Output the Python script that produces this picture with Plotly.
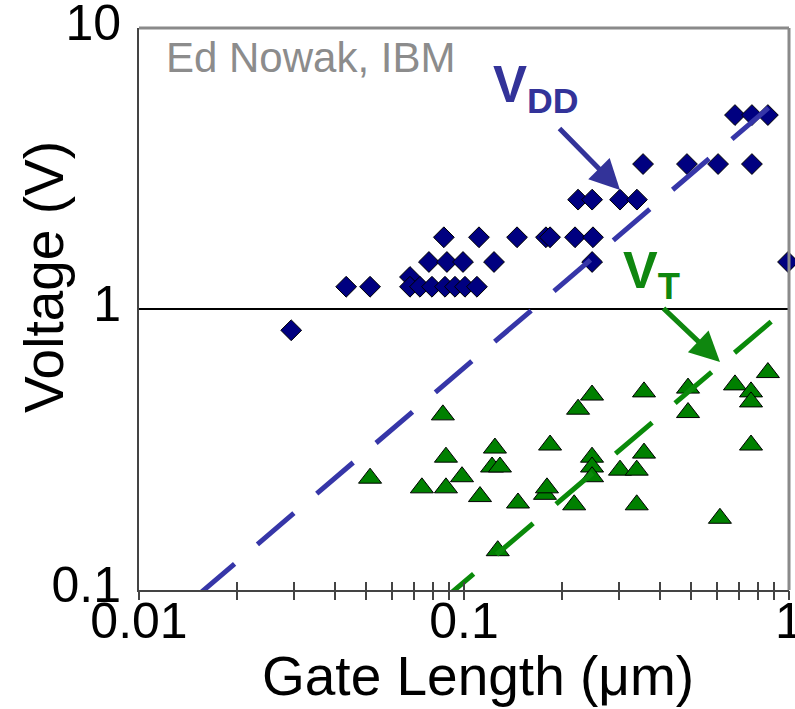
import plotly.graph_objects as go

# ---- data ----
vdd_L = [0.0294, 0.0434, 0.0514, 0.0682, 0.0682, 0.0732, 0.0797, 0.0874, 0.0938, 0.1007, 0.1096,
         0.078, 0.0886, 0.0993, 0.1237, 0.0867, 0.1112, 0.1456, 0.1787, 0.184, 0.2196, 0.2494,
         0.2479, 0.2244, 0.2479, 0.302, 0.3405, 0.3556, 0.4853, 0.605, 0.769, 0.682, 0.769, 0.861,
         0.993]
vdd_V = [0.84, 1.2, 1.2, 1.3, 1.2, 1.2, 1.2, 1.2, 1.2, 1.2, 1.2,
         1.47, 1.47, 1.47, 1.47, 1.8, 1.8, 1.8, 1.8, 1.8, 1.8, 1.8,
         1.47, 2.45, 2.45, 2.45, 2.45, 3.28, 3.28, 3.28, 3.28, 4.9, 4.9, 4.9,
         1.47]

vt_L = [0.0514, 0.0742, 0.0861, 0.088, 0.088, 0.0986, 0.112, 0.1245, 0.122, 0.129, 0.127,
        0.1466, 0.184, 0.1775, 0.18, 0.2183, 0.2244, 0.2477, 0.2477, 0.2477, 0.2477, 0.302,
        0.340, 0.358, 0.340, 0.358, 0.489, 0.489, 0.613, 0.682, 0.764, 0.764, 0.764, 0.861]
vt_V = [0.25, 0.231, 0.42, 0.297, 0.231, 0.253, 0.215, 0.32, 0.274, 0.274, 0.138,
        0.204, 0.328, 0.219, 0.231, 0.201, 0.44, 0.494, 0.297, 0.274, 0.253, 0.267,
        0.267, 0.307, 0.201, 0.507, 0.523, 0.428, 0.18, 0.537, 0.507, 0.467, 0.328, 0.594]

vdd_line_L = [0.0152, 1.0]
vdd_line_V = [0.096, 6.0]
vt_line_L = [0.0826, 1.0]
vt_line_V = [0.0885, 1.02]

x_tickvals = [0.01, 0.02, 0.03, 0.04, 0.05, 0.06, 0.07, 0.08, 0.09,
              0.1, 0.2, 0.3, 0.4, 0.5, 0.6, 0.7, 0.8, 0.9, 1]
x_ticktext = ["0.01"] + [""] * 8 + ["0.1"] + [""] * 8 + ["1"]
y_tickvals = [0.1, 1, 10]
y_ticktext = ["0.1", "1", "10"]

FONT = "Liberation Sans, Arial, sans-serif"
BLUE = "#333399"
GREEN = "#0f870f"

fig = go.Figure()

fig.add_trace(go.Scatter(x=vdd_L, y=vdd_V, mode="markers", cliponaxis=False,
                         marker=dict(symbol="diamond", size=16, color="#000080",
                                     line=dict(color="black", width=1)),
                         showlegend=False, hoverinfo="skip"))
fig.add_trace(go.Scatter(x=vt_L, y=vt_V, mode="markers", cliponaxis=False,
                         marker=dict(symbol="triangle-up", size=20, color="#008000",
                                     line=dict(color="black", width=1)),
                         showlegend=False, hoverinfo="skip"))
fig.add_trace(go.Scatter(x=vdd_line_L, y=vdd_line_V, mode="lines",
                         line=dict(color="#3636a8", width=5, dash="48px,30px"),
                         showlegend=False, hoverinfo="skip"))
fig.add_trace(go.Scatter(x=vt_line_L, y=vt_line_V, mode="lines",
                         line=dict(color="#0a8a0a", width=5, dash="48px,30px"),
                         showlegend=False, hoverinfo="skip"))
# empty trace to carry the overlay axis (outer half of crossing ticks)
fig.add_trace(go.Scatter(x=[], y=[], xaxis="x2", yaxis="y", showlegend=False))

fig.update_layout(
    width=795, height=709, autosize=False,
    margin=dict(l=139, r=6, t=28, b=119, pad=0, autoexpand=False),
    paper_bgcolor="white", plot_bgcolor="white",
    font=dict(family=FONT, color="black"),
    xaxis=dict(type="log", range=[-2, 0], tickvals=x_tickvals, ticktext=x_ticktext,
               ticks="inside", ticklen=8, tickwidth=2, tickcolor="#444",
               ticklabelstandoff=-14, ticklabeloverflow="allow", automargin=False,
               showline=True, linecolor="#444", linewidth=2, showgrid=False, zeroline=False,
               tickfont=dict(size=50, color="black"), fixedrange=True),
    xaxis2=dict(type="log", range=[-2, 0], overlaying="x", side="bottom", anchor="y",
                tickvals=x_tickvals, showticklabels=False, automargin=False,
                ticks="outside", ticklen=9, tickwidth=2, tickcolor="#444",
                showline=False, showgrid=False, zeroline=False),
    yaxis=dict(type="log", range=[-1, 1], tickvals=y_tickvals, ticktext=y_ticktext,
               ticks="outside", ticklen=6, tickcolor="rgba(0,0,0,0)",
               ticklabelshift=-6, ticklabeloverflow="allow", automargin=False,
               showline=True, linecolor="#444", linewidth=2, showgrid=False, zeroline=False,
               tickfont=dict(size=50, color="black"), fixedrange=True),
    shapes=[
        dict(type="line", xref="paper", yref="paper", x0=0, x1=1, y0=1, y1=1,
             line=dict(color="#8a8a8a", width=3)),
        dict(type="line", xref="paper", yref="paper", x0=1, x1=1, y0=0, y1=1,
             line=dict(color="#8a8a8a", width=3)),
        dict(type="line", xref="paper", yref="paper", x0=0, x1=1, y0=0.5, y1=0.5,
             line=dict(color="black", width=2), layer="below"),
    ],
    annotations=[
        dict(text="Gate Length (μm)", xref="paper", yref="paper", x=0.5215, y=-0.153,
             showarrow=False, font=dict(size=55, color="black"),
             xanchor="center", yanchor="middle"),
        dict(text="Voltage (V)", xref="paper", yref="paper", x=-0.146, y=0.557,
             showarrow=False, textangle=-90, font=dict(size=55, color="black"),
             xanchor="center", yanchor="middle"),
        dict(text="Ed Nowak, IBM", xref="paper", yref="paper", x=0.038, y=0.947,
             showarrow=False, font=dict(size=42, color="#8c8c8c"),
             xanchor="left", yanchor="middle"),
        dict(text="<b>V<sub>DD</sub></b>", xref="paper", yref="paper", x=0.541, y=0.893,
             showarrow=False, font=dict(size=51, color=BLUE),
             xanchor="left", yanchor="middle"),
        dict(text="<b>V<sub>T</sub></b>", xref="paper", yref="paper", x=0.741, y=0.563,
             showarrow=False, font=dict(size=52, color=GREEN),
             xanchor="left", yanchor="middle"),
        dict(text="", xref="paper", yref="paper", x=(620 - 139) / 650, y=(590 - 190) / 562,
             ax=-62, ay=-63, axref="pixel", ayref="pixel", showarrow=True,
             arrowhead=2, arrowsize=1.2, arrowwidth=5, arrowcolor=BLUE),
        dict(text="", xref="paper", yref="paper", x=(720 - 139) / 650, y=(590 - 362) / 562,
             ax=-58, ay=-55, axref="pixel", ayref="pixel", showarrow=True,
             arrowhead=2, arrowsize=1.2, arrowwidth=5, arrowcolor=GREEN),
    ],
)

fig.write_html("out.html")
